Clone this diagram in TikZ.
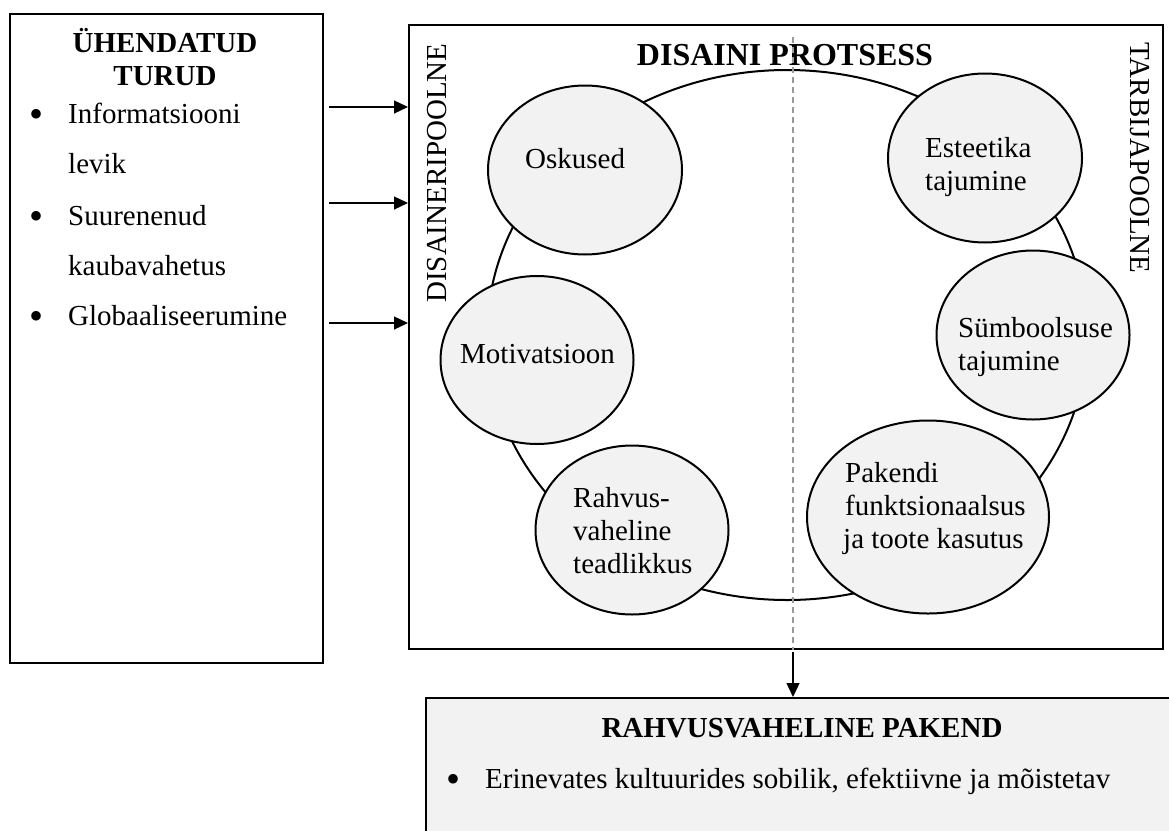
\documentclass[tikz,border=0pt]{standalone}
\usepackage{fontspec}
\setmainfont{Liberation Serif}
\usetikzlibrary{arrows.meta,shapes.geometric}
\definecolor{bubfill}{HTML}{F2F2F2}
\definecolor{dashgray}{HTML}{9A9A9A}
\newcommand{\fsz}{\fontsize{29}{33}\selectfont}
\newcommand{\fst}{\fontsize{32}{36}\selectfont\bfseries}
\newcommand{\fbul}{\fontsize{40}{44}\selectfont}
\begin{document}
\begin{tikzpicture}[x=1pt,y=-1pt,
  frame/.style={draw, line width=2.2pt, inner sep=0pt, anchor=north west},
  bub/.style={draw, ellipse, line width=2pt, fill=bubfill, inner sep=0pt},
  txt/.style={font=\fsz, inner sep=0pt, anchor=base west},
  hdr/.style={font=\fsz\bfseries, inner sep=0pt, anchor=base},
  bul/.style={font=\fbul, inner sep=0pt, anchor=base},
  arr/.style={line width=1.3pt, -{Triangle[length=14pt,width=13pt]}},
  ]
\useasboundingbox (0,0) rectangle (1169,830);
\clip (0,0) rectangle (1169,830);

% boxes
\node[frame, minimum width=313, minimum height=649] (left) at (9,13) {};
\node[frame, minimum width=754, minimum height=624] (main) at (408,24) {};
\node[frame, fill=bubfill, minimum width=780, minimum height=170] (bot) at (425,697) {};

% left box text
\node[hdr] (h1) at (165,52) {ÜHENDATUD};
\node[hdr] (h2) at (165,85) {TURUD};
\node[bul] (b1) at (37,127) {•};
\node[bul] (b2) at (37,229) {•};
\node[bul] (b3) at (37,329) {•};
\node[txt] (l1) at (68,123) {Informatsiooni};
\node[txt] (l2) at (68,173) {levik};
\node[txt] (l3) at (68,225) {Suurenenud};
\node[txt] (l4) at (68,275) {kaubavahetus};
\node[txt] (l5) at (68,325) {Globaaliseerumine};

% arrows into design process
\coordinate (a1) at (329,107);
\coordinate (a2) at (329,203);
\coordinate (a3) at (329,323);
\draw[arr] (a1) -- (a1 -| main.west);
\draw[arr] (a2) -- (a2 -| main.west);
\draw[arr] (a3) -- (a3 -| main.west);

% design process
\node[font=\fst, inner sep=0pt, anchor=base] (title) at (785,65) {DISAINI PROTSESS};
\node[font=\fsz, inner sep=0pt, anchor=base, rotate=90] (dside) at (446,173) {DISAINERIPOOLNE};
\node[font=\fsz, inner sep=0pt, anchor=base, rotate=-90] (tside) at (1130,158) {TARBIJAPOOLNE};

\node[draw, ellipse, line width=2pt, inner sep=0pt, minimum width=600, minimum height=530] (cyc) at (787,335) {};

\node[bub, minimum width=194, minimum height=169] (osk) at (585,170) {};
\node[bub, minimum width=194, minimum height=169] (est) at (985,158) {};
\node[bub, minimum width=193, minimum height=169] (sym) at (1033,335) {};
\node[bub, minimum width=193, minimum height=168] (mot) at (537,360) {};
\node[bub, minimum width=193, minimum height=169] (rah) at (632,530) {};
\node[bub, minimum width=242, minimum height=193] (pak) at (928,517) {};

\node[txt] (osk1) at (525,168) {Oskused};
\node[txt] (est1) at (925,157) {Esteetika};
\node[txt] (est2) at (925,190) {tajumine};
\node[txt] (sym1) at (958,337) {Sümboolsuse};
\node[txt] (sym2) at (958,370) {tajumine};
\node[txt] (mot1) at (460,363) {Motivatsioon};
\node[txt] (rah1) at (573,507) {Rahvus-};
\node[txt] (rah2) at (573,540) {vaheline};
\node[txt] (rah3) at (573,573) {teadlikkus};
\node[txt] (pak1) at (845,482) {Pakendi};
\node[txt] (pak2) at (845,515) {funktsionaalsus};
\node[txt] (pak3) at (843,548) {ja toote kasutus};

% divider and output arrow
\coordinate (dtop) at (793,37);
\coordinate (dbot) at (793,652);
\draw[dashgray, line width=1.2pt, dash pattern=on 6pt off 4pt] (dtop) -- (dtop |- main.south);
\draw[arr] (dbot) -- (dbot |- bot.north);

% bottom box text
\node[hdr] (bt) at (802,737) {RAHVUSVAHELINE PAKEND};
\node[bul] (bb) at (453,792) {•};
\node[txt] (bl) at (485,788) {Erinevates kultuurides sobilik, efektiivne ja mõistetav};
\end{tikzpicture}
\end{document}
